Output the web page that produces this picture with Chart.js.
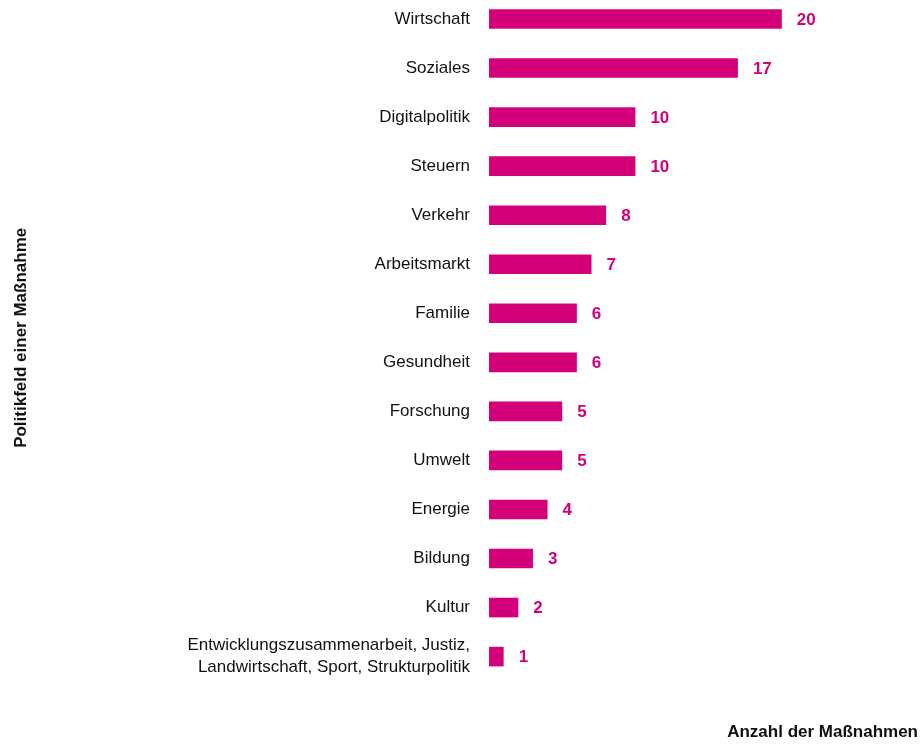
<html><head><meta charset="utf-8">
<script src="https://cdn.jsdelivr.net/npm/chart.js@4"></script>
<style>
body { margin:0; background:#fff; }
#wrap { position:relative; width:921px; height:744px; }
</style>
</head>
<body>
<div id="wrap"><canvas id="myChart" width="921" height="744"></canvas></div>
<script>
// categories and counts
var categories = ['Wirtschaft', 'Soziales', 'Digitalpolitik', 'Steuern', 'Verkehr', 'Arbeitsmarkt',
  'Familie', 'Gesundheit', 'Forschung', 'Umwelt', 'Energie', 'Bildung', 'Kultur',
  ['Entwicklungszusammenarbeit, Justiz,', 'Landwirtschaft, Sport, Strukturpolitik']];
var counts = [20, 17, 10, 10, 8, 7, 6, 6, 5, 5, 4, 3, 2, 1];

var magenta = '#d4007a';
var fontName = "'Liberation Sans', Arial, sans-serif";

// value labels to the right of each bar
var valueLabels = {
  id: 'valueLabels',
  afterDatasetsDraw: function(chart) {
    var ctx = chart.ctx;
    var meta = chart.getDatasetMeta(0);
    ctx.save();
    ctx.font = 'bold 17px ' + fontName;
    ctx.fillStyle = magenta;
    ctx.textAlign = 'left';
    ctx.textBaseline = 'middle';
    meta.data.forEach(function(bar, i) {
      ctx.fillText(counts[i], bar.x + 15, bar.y + 1);
    });
    ctx.restore();
  }
};

var ctx = document.getElementById('myChart');
var myChart = new Chart(ctx, {
  type: 'bar',
  data: {
    labels: categories,
    datasets: [{
      data: counts,
      backgroundColor: magenta,
      borderWidth: 0,
      barPercentage: 0.8,
      categoryPercentage: 0.5,
      clip: false
    }]
  },
  options: {
    indexAxis: 'y',
    responsive: false,
    animation: false,
    devicePixelRatio: 1,
    layout: { padding: { top: 19, right: 3, bottom: 0, left: 0 } },
    plugins: { legend: { display: false }, tooltip: { enabled: false } },
    scales: {
      x: {
        min: 0,
        max: 29.3,
        grid: { display: false, drawTicks: false },
        border: { display: false },
        ticks: { display: false },
        title: {
          display: true,
          text: 'Anzahl der Maßnahmen',
          align: 'end',
          color: '#111',
          font: { family: fontName, size: 17, weight: 'bold' },
          padding: { top: 66, bottom: 1 }
        }
      },
      y: {
        offset: false,
        grid: { display: false, drawTicks: false },
        border: { display: false },
        ticks: {
          color: '#111',
          padding: 19,
          font: { family: fontName, size: 17, lineHeight: 1.3 }
        },
        title: {
          display: true,
          text: 'Politikfeld einer Maßnahme',
          color: '#111',
          font: { family: fontName, size: 17, weight: 'bold' },
          padding: { top: 11, bottom: 0 }
        },
        afterFit: function(scale) {
          scale.width = 489;
          scale.paddingTop = 0;
          scale.paddingBottom = 0;
        }
      }
    }
  },
  plugins: [valueLabels]
});
</script>
</body></html>
